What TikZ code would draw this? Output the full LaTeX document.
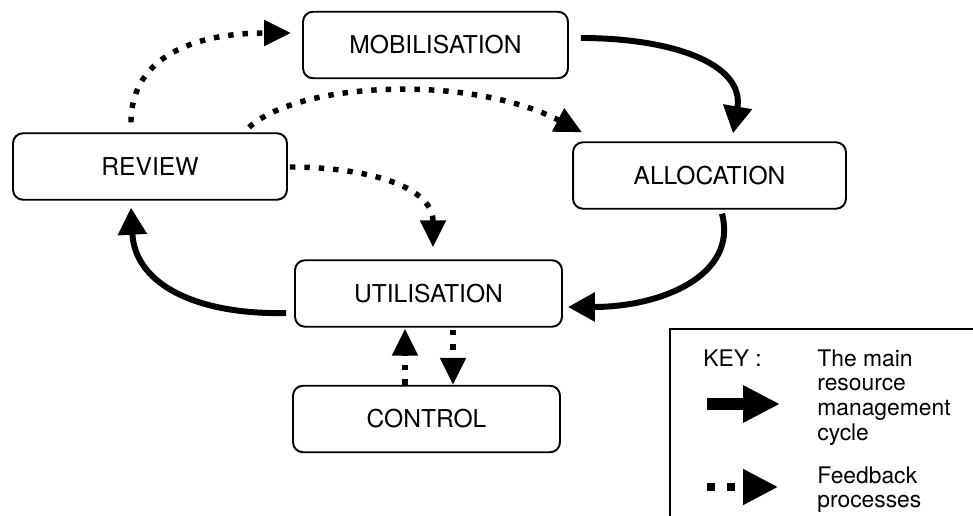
\documentclass[tikz,border=0pt]{standalone}
\usepackage{fontspec}
\setmainfont{TeX Gyre Heros}
\usepackage{tikz}
\usetikzlibrary{arrows.meta}

\begin{document}
\begin{tikzpicture}[x=0.02cm, y=-0.02cm,
  stage/.style={rectangle, rounded corners=0.2cm, draw=black, line width=1.1pt, minimum height=1.33cm, inner sep=0pt, font=\fontsize{14}{16}\selectfont},
  mainarrow/.style={line width=3.4pt, -{Triangle[length=0.54cm, width=0.56cm]}},
  feedarrow/.style={line width=3.1pt, dash pattern=on 3.1pt off 5.1pt, -{Triangle[length=0.54cm, width=0.5cm]}},
  keytext/.style={anchor=north west, align=left, inner sep=0pt, font=\fontsize{13}{14.2}\selectfont}]
 \useasboundingbox (0,0) rectangle (973,516);
 \node [stage, minimum width=5.3cm] (M) at (435.5,45) {MOBILISATION};
 \node [stage, minimum width=5.48cm] (R) at (150,166.5) {REVIEW};
 \node [stage, minimum width=5.46cm] (A) at (709.5,175.5) {ALLOCATION};
 \node [stage, minimum width=5.34cm] (U) at (428.5,293.5) {UTILISATION};
 \node [stage, minimum width=5.34cm] (C) at (426.5,419) {CONTROL};
 \draw [mainarrow] ([shift={(12,-7)}]M.east) .. controls +(90,0) and +(12,-70) .. ([shift={(23.5,-8)}]A.north);
 \draw [mainarrow] ([shift={(12.5,4)}]A.south) .. controls +(16,62) and +(93,0) .. ([shift={(5,13.5)}]U.east);
 \draw [mainarrow] ([shift={(-8,19.5)}]U.west) .. controls +(-87,2) and +(4,78) .. ([shift={(-19,7)}]R.south);
 \draw [feedarrow] ([shift={(-19,-10)}]R.north) .. controls +(0,-68) and +(-92,0) .. ([shift={(-11,-12)}]M.west);
 \draw [feedarrow] ([shift={(99,-5)}]R.north) .. controls +(51,-46) and +(-112,-58) .. ([shift={(-127.5,-9)}]A.north);
 \draw [feedarrow] ([shift={(2,0.5)}]R.east) .. controls +(71,0) and +(0,-63) .. ([shift={(4.5,-12)}]U.north);
 \draw [feedarrow] ([shift={(-21.5,0)}]C.north) to ([shift={(-23.5,1)}]U.south);
 \draw [feedarrow] ([shift={(24.5,2)}]U.south) to ([shift={(26.5,0)}]C.north);
 \draw [line width=0.85pt] (670,516) -- (670,329) -- (973,329);
 \node [keytext] (K) at (703,349) {KEY :};
 \node [keytext] (T1) at (817,349) {The main\\resource\\management\\cycle};
 \node [keytext] (T2) at (817,466) {Feedback\\processes};
 \coordinate (k1s) at (707,404);
 \coordinate (k1e) at (780,404);
 \coordinate (k2s) at (707,487);
 \coordinate (k2e) at (778,487);
 \draw [line width=6.8pt, -{Triangle[length=0.74cm, width=0.7cm]}] (k1s) -- (k1e);
 \draw [line width=4.5pt, dash pattern=on 4.5pt off 6.8pt, -{Triangle[length=0.7cm, width=0.68cm]}] (k2s) -- (k2e);
\end{tikzpicture}
\end{document}
